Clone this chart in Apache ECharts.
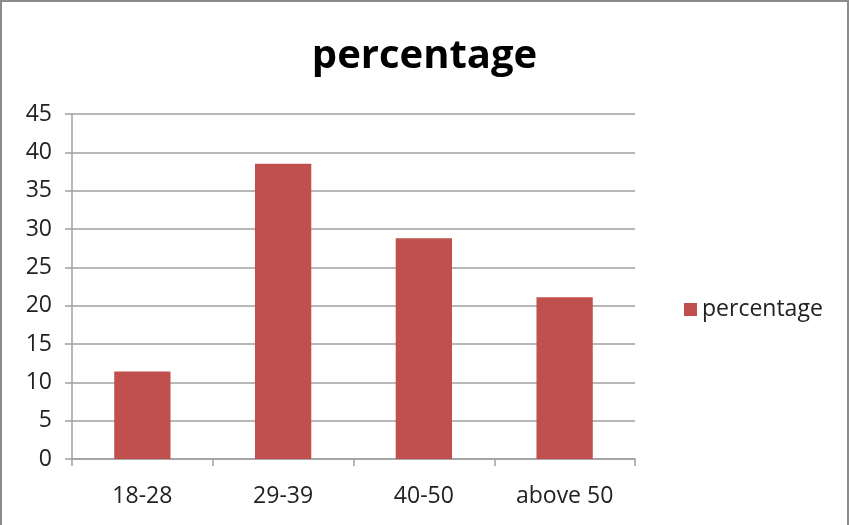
<!DOCTYPE html>
<html>
<head>
<meta charset="utf-8">
<script src="https://cdn.jsdelivr.net/npm/echarts@6/dist/echarts.min.js"></script>
<style>
  html, body { margin: 0; padding: 0; background: #fff; }
  #chart { width: 849px; height: 525px; box-sizing: border-box; border: 2px solid #8c8c8c; border-bottom: none; }
</style>
</head>
<body>
<div id="chart"></div>
<script>
var categories = ['18-28', '29-39', '40-50', 'above 50'];
var percentValues = [11.4, 38.5, 28.8, 21.1];
var seriesName = 'percentage';

var chart = echarts.init(document.getElementById('chart'));
var fontName = '"Open Sans", Lato, sans-serif';

chart.setOption({
    animation: false,
    title: {
        text: 'percentage',
        left: 'center',
        top: 30,
        textStyle: { fontFamily: fontName, fontSize: 40, fontWeight: 'bold', color: '#000' }
    },
    legend: {
        data: [seriesName],
        left: 677,
        top: 291,
        icon: 'rect',
        itemWidth: 13,
        itemHeight: 13,
        itemGap: 6,
        textStyle: { fontFamily: fontName, fontSize: 23, color: '#222' }
    },
    grid: { left: 70, top: 112, width: 563, height: 345, containLabel: false },
    xAxis: {
        type: 'category',
        data: categories,
        axisLine: { lineStyle: { color: '#a0a0a0', width: 1.5 } },
        axisTick: { show: true, length: 7, lineStyle: { color: '#a0a0a0', width: 1.5 } },
        axisLabel: { fontFamily: fontName, fontSize: 23, color: '#222', margin: 26 }
    },
    yAxis: {
        type: 'value',
        min: 0,
        max: 45,
        interval: 5,
        axisLine: { show: true, lineStyle: { color: '#a0a0a0', width: 1.5 } },
        axisTick: { show: true, length: 7, lineStyle: { color: '#a0a0a0', width: 1.5 } },
        axisLabel: { fontFamily: fontName, fontSize: 23, color: '#222', margin: 20 },
        splitLine: { lineStyle: { color: '#a0a0a0', width: 1.5 } }
    },
    series: [{
        name: seriesName,
        type: 'bar',
        data: percentValues,
        barWidth: '40%',
        itemStyle: { color: '#C0504D' }
    }]
});
</script>
</body>
</html>
